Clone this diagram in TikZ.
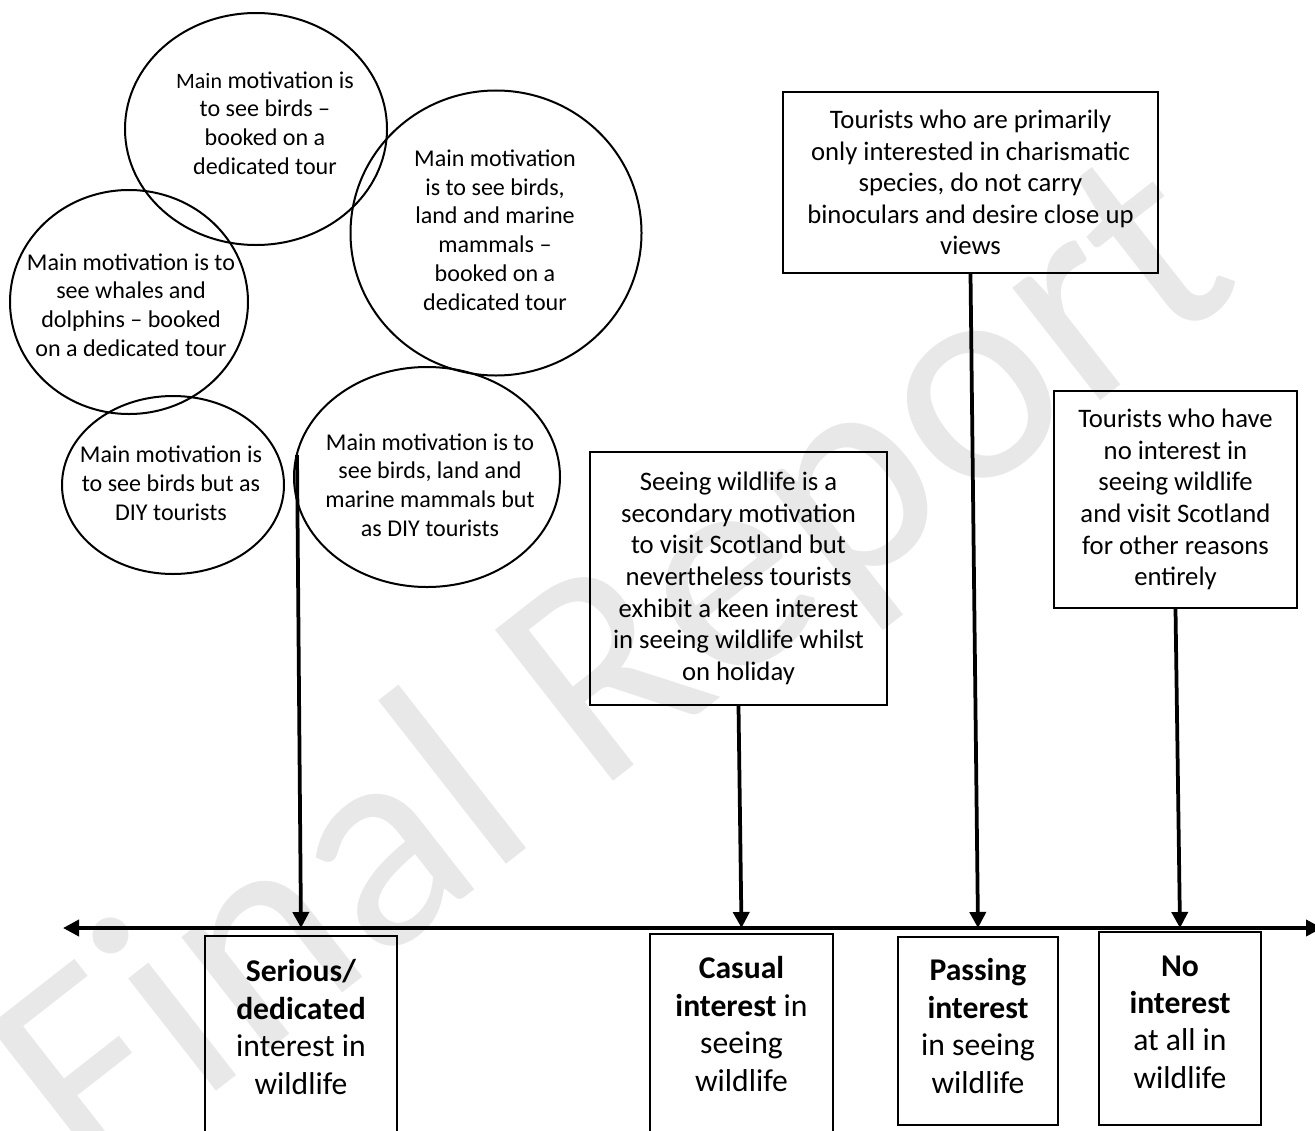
\documentclass[tikz,border=0pt]{standalone}
\usepackage{fontspec}
\setmainfont{Carlito}
\usetikzlibrary{arrows.meta,shapes.geometric}
\tikzset{
  bubble/.style={ellipse, draw, line width=0.4mm, inner sep=0pt},
  bubbletext/.style={align=center, font=\fontsize{13.7}{16.4}\selectfont},
  typebox/.style={rectangle, draw, line width=0.35mm, align=center, inner sep=0pt, font=\fontsize{15.2}{18}\selectfont},
  levelbox/.style={rectangle, draw, line width=0.35mm, inner sep=0pt},
  leveltext/.style={align=center, font=\fontsize{18}{21.3}\selectfont},
  pointer/.style={line width=0.75mm, -{Triangle[length=3.2mm, width=3.2mm]}},
}

\begin{document}
\begin{tikzpicture}[x=0.2mm, y=-0.2mm]
  %%%%% START %%%%%
  \useasboundingbox (0,0) rectangle (1315,1130);

  % watermark
  \node[rotate=38, text=black!9, font=\fontsize{170}{170}\selectfont] (mark) at (620,675) {Final Report};

  % motivation bubbles
  \node[bubble, minimum width=52.4mm, minimum height=46.4mm] (birdsTour) at (256,129) {};
  \node[bubble, minimum width=47.6mm, minimum height=44.8mm] (whalesTour) at (129,302) {};
  \node[bubble, minimum width=58.2mm, minimum height=57mm] (allTour) at (496,233) {};
  \node[bubble, minimum width=44.4mm, minimum height=35.6mm] (birdsDIY) at (173,485) {};
  \node[bubble, minimum width=53.2mm, minimum height=44mm] (allDIY) at (427,477) {};

  \node[bubbletext] (birdsTourTxt) at (265,123) {{\fontsize{12.5}{16.4}\selectfont Main} motivation is\\to see birds --\\booked on a\\dedicated tour};
  \node[bubbletext] (whalesTourTxt) at (131,305) {Main motivation is to\\see whales and\\dolphins -- booked\\on a dedicated tour};
  \node[bubbletext] (allTourTxt) at (495,230) {Main motivation\\is to see birds,\\land and marine\\mammals --\\booked on a\\dedicated tour};
  \node[bubbletext] (birdsDIYTxt) at (171,483) {Main motivation is\\to see birds but as\\DIY tourists};
  \node[bubbletext] (allDIYTxt) at (430,485) {Main motivation is to\\see birds, land and\\marine mammals but\\as DIY tourists};

  % tourist types
  \node[typebox, minimum width=59.4mm, minimum height=50.6mm] (casualType) at (738.5,578.5) {Seeing wildlife is a\\secondary motivation\\to visit Scotland but\\nevertheless tourists\\exhibit a keen interest\\in seeing wildlife whilst\\on holiday};
  \node[typebox, minimum width=75mm, minimum height=36.2mm] (passingType) at (970.5,182.5) {Tourists who are primarily\\only interested in charismatic\\species, do not carry\\binoculars and desire close up\\views};
  \node[typebox, minimum width=48.6mm, minimum height=43.4mm] (noneType) at (1175.5,499.5) {Tourists who have\\no interest in\\seeing wildlife\\and visit Scotland\\for other reasons\\entirely};

  % interest levels
  \node[levelbox, minimum width=38.4mm, minimum height=40.8mm] (serious) at (301,1038) {};
  \node[levelbox, minimum width=36.6mm, minimum height=41.2mm] (casual) at (741.5,1037) {};
  \node[levelbox, minimum width=32mm, minimum height=37.6mm] (passing) at (978,1031) {};
  \node[levelbox, minimum width=32.4mm, minimum height=38.6mm] (none) at (1180,1028.5) {};

  \node[leveltext] (seriousTxt) at (301,1027) {\textbf{Serious/}\\\textbf{dedicated}\\interest in\\wildlife};
  \node[leveltext] (casualTxt) at (741.5,1024) {\textbf{Casual}\\\textbf{interest} in\\seeing\\wildlife};
  \node[leveltext] (passingTxt) at (978,1026) {\textbf{Passing}\\\textbf{interest}\\in seeing\\wildlife};
  \node[leveltext] (noneTxt) at (1180,1022) {\textbf{No}\\\textbf{interest}\\at all in\\wildlife};

  % axis
  \coordinate (axisW) at (63,928);
  \coordinate (axisE) at (1322,928);
  \draw[line width=0.75mm, {Triangle[length=3.2mm, width=3.2mm]}-{Triangle[length=3.2mm, width=3.2mm]}] (axisW) -- (axisE);

  % pointers
  \coordinate (diyStart) at (297,455);
  \draw[pointer] (diyStart) -- (serious.north |- axisW);
  \draw[pointer] (casualType.south) -- (casual.north |- axisW);
  \draw[pointer] (passingType.south) -- (passing.north |- axisW);
  \draw[pointer] (noneType.south) -- (none.north |- axisW);
  %%%%% END %%%%%
\end{tikzpicture}
\end{document}
